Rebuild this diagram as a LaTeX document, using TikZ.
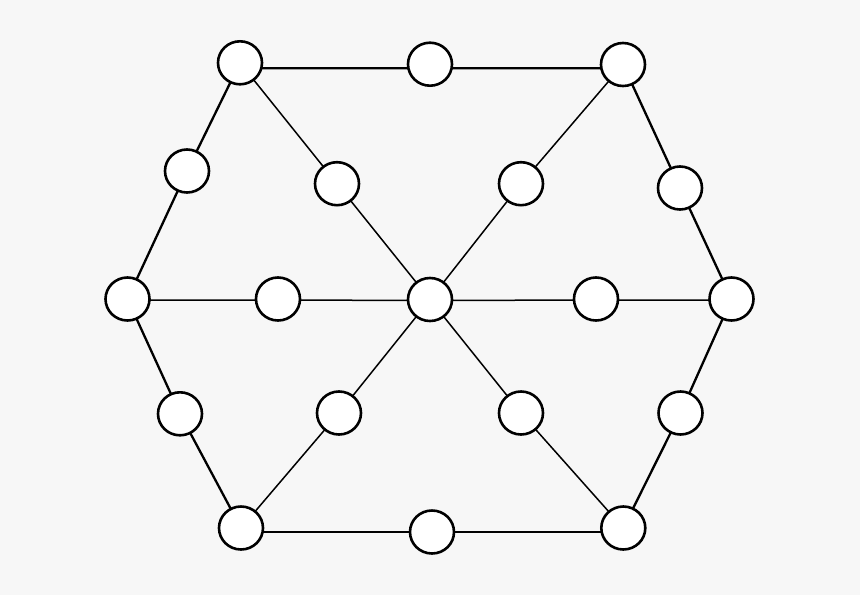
\documentclass[tikz,border=0pt]{standalone}
\usetikzlibrary{shapes.geometric,backgrounds}
\definecolor{bgc}{HTML}{F7F7F7}
\begin{document}
\begin{tikzpicture}[x=1pt,y=-1pt,
  vtx/.style={ellipse,draw=black,fill=white,line width=2.6pt,minimum width=44pt,minimum height=43pt,inner sep=0pt},
  rim/.style={line width=2.3pt},
  spoke/.style={line width=1.5pt}]
\node[vtx] (v1) at (240,62.8) {};
\node[vtx] (t) at (430,64.2) {};
\node[vtx] (v2) at (623,64.5) {};
\node[vtx] (a) at (187,171) {};
\node[vtx] (b) at (680,188) {};
\node[vtx] (v6) at (127.5,299) {};
\node[vtx] (c) at (430,299.5) {};
\node[vtx] (v3) at (731.5,299) {};
\node[vtx] (s1) at (337,183.7) {};
\node[vtx] (s2) at (521,183.7) {};
\node[vtx] (s3) at (278,299) {};
\node[vtx] (s4) at (596,299) {};
\node[vtx] (s5) at (339,413) {};
\node[vtx] (s6) at (521,413) {};
\node[vtx] (d) at (180,413.8) {};
\node[vtx] (e) at (680.5,413) {};
\node[vtx] (v5) at (241,528) {};
\node[vtx] (bm) at (432,532) {};
\node[vtx] (v4) at (623.3,528) {};
\begin{scope}[on background layer]
\fill[bgc] (0,0) rectangle (860,595);
\draw[rim] ([yshift=-5.5pt]v1.center) -- ([yshift=-4pt]t.center) -- ([yshift=-3.8pt]v2.center);
\draw[rim] (v2.center) -- (b.center) -- (v3.center) -- (e.center) -- (v4.center);
\draw[rim] ([yshift=-4pt]v4.center) -- (bm.center) -- ([yshift=-4pt]v5.center);
\draw[rim] (v5.center) -- (d.center) -- (v6.center) -- (a.center) -- (v1.center);
\draw[spoke] (c.center) -- (s1.center) -- (v1.center);
\draw[spoke] (c.center) -- (s2.center) -- (v2.center);
\draw[spoke] ([yshift=-1pt]c.center) -- ([yshift=-1pt]s3.center) -- ([yshift=-1pt]v6.center);
\draw[spoke] ([yshift=-1pt]c.center) -- ([yshift=-1pt]s4.center) -- ([yshift=-1pt]v3.center);
\draw[spoke] (c.center) -- (s5.center) -- (v5.center);
\draw[spoke] (c.center) -- (s6.center) -- (v4.center);
\end{scope}
\useasboundingbox (0,0) rectangle (860,595);
\end{tikzpicture}
\end{document}
